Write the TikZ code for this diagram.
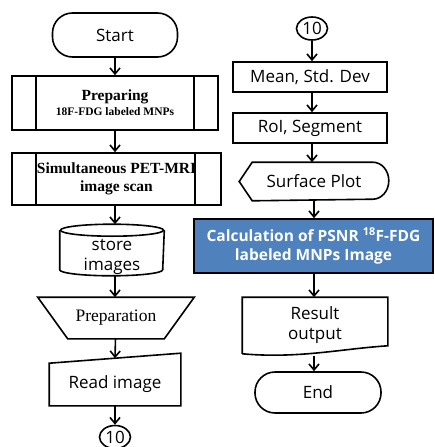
\documentclass[tikz,border=0pt]{standalone}
\usepackage{fontspec}
\setmainfont{Open Sans}
\newfontfamily\timesfont{Liberation Serif}
\usetikzlibrary{shapes.geometric,arrows.meta}

\definecolor{calcblue}{RGB}{79,129,189}

\begin{document}
\begin{tikzpicture}[x=1pt, y=1pt, line width=1.6pt, >={Straight Barb[length=6pt,width=10pt]},
    txt/.style = {font=\fontsize{17}{20}\selectfont, align=center, inner sep=0pt},
    term/.style = {txt, draw, rounded corners=20pt},
    box/.style = {txt, draw, minimum width=154pt, minimum height=30pt},
    proc/.style = {draw, align=center, inner sep=0pt, font=\timesfont\bfseries\fontsize{15.5}{18}\selectfont},
    frame/.style = {txt, minimum width=#1},
    conn/.style = {txt, draw, ellipse, minimum width=31pt, minimum height=23pt}]
    \useasboundingbox (0,0) rectangle (435,-447);

    % left column
    \node[term, minimum width=125pt, minimum height=44pt] (start) at (115,-35) {Start};
    \node[proc, minimum width=206pt, minimum height=54pt] (prep) at (115,-103)
        {Preparing\\[-3pt]{\fontsize{11.5}{13}\selectfont 18F-FDG labeled MNPs}};
    \node[proc, minimum width=209pt, minimum height=52pt] (scan) at (116.5,-179)
        {Simultaneous PET-MRI\\image scan};
    \node[frame=103pt, minimum height=50pt] (store) at (112,-250) {};
    \node[txt] (storetext) at (112,-257) {store\\images};
    \node[frame=155pt, minimum height=40pt, font=\timesfont\fontsize{17.5}{20}\selectfont] (prepn) at (116,-318) {Preparation};
    \node[frame=130pt, minimum height=41pt] (read) at (115,-384.5) {Read image};
    \node[conn] (conn2) at (115,-437) {10};

    % right column
    \node[conn] (conn1) at (312,-28.5) {10};
    \node[box] (mean) at (310,-77) {Mean, Std. Dev};
    \node[box] (roi) at (310,-128) {RoI, Segment};
    \node[frame=148pt, minimum height=37pt] (surf) at (314,-181.5) {Surface Plot};
    \node[txt, draw, fill=calcblue, text=white, font=\bfseries\fontsize{15.5}{19}\selectfont,
        minimum width=239pt, minimum height=54pt] (calc) at (313.5,-246)
        {Calculation of PSNR \textsuperscript{18}F-FDG\\labeled MNPs Image};
    \node[frame=144pt, minimum height=55pt] (result) at (315,-325.5) {Result\\output};
    \node[term, minimum width=126pt, minimum height=41pt] (end) at (318,-392.5) {End};

    % shape outlines
    \draw ([xshift=25pt]prep.north west) -- ([xshift=25pt]prep.south west);
    \draw ([xshift=-25pt]prep.north east) -- ([xshift=-25pt]prep.south east);
    \draw ([xshift=25pt]scan.north west) -- ([xshift=25pt]scan.south west);
    \draw ([xshift=-27pt]scan.north east) -- ([xshift=-27pt]scan.south east);
    \draw ([yshift=-6pt]store.north) ellipse [x radius=51.5pt, y radius=6pt];
    \draw ([yshift=-6pt]store.north west) -- ([yshift=6pt]store.south west)
        arc [start angle=180, end angle=360, x radius=51.5pt, y radius=6pt] -- ([yshift=-6pt]store.north east);
    \draw (prepn.north west) -- (prepn.north east) -- ([xshift=-30pt]prepn.south east)
        -- ([xshift=30pt]prepn.south west) -- cycle;
    \draw (read.north west) -- ([yshift=10pt]read.north east) -- (read.south east) -- (read.south west) -- cycle;
    \draw (surf.west) -- ([xshift=13pt]surf.north west) -- ([xshift=-16pt]surf.north east)
        arc [start angle=90, end angle=-90, x radius=16pt, y radius=18.5pt]
        -- ([xshift=13pt]surf.south west) -- cycle;
    \draw (result.south west) -- (result.north west) -- (result.north east) -- ([yshift=8pt]result.south east)
        .. controls ([xshift=-47pt,yshift=5pt]result.south east) and ([xshift=57pt,yshift=-5pt]result.south west) .. (result.south west);

    % arrows
    \draw[->] (start) -- (start |- prep.north);
    \draw[->] (prep) -- (prep |- scan.north);
    \draw[->] ([xshift=-1.5pt]scan.south) -- (start |- store.north);
    \draw[->] (start |- store.south) -- (start |- prepn.north);
    \draw[->] (prepn) -- ([yshift=5pt]read.north);
    \draw[->] (read) -- (conn2);
    \draw[->] (conn1) -- (conn1 |- mean.north);
    \draw[->] (conn1 |- mean.south) -- (conn1 |- roi.north);
    \draw[->] (conn1 |- roi.south) -- (conn1 |- surf.north);
    \draw[->] (surf) -- (surf |- calc.north);
    \draw[->] (surf |- calc.south) -- (surf |- result.north);
    \draw[->] ([yshift=-2pt]surf |- result.south) -- (surf |- end.north);
\end{tikzpicture}
\end{document}
